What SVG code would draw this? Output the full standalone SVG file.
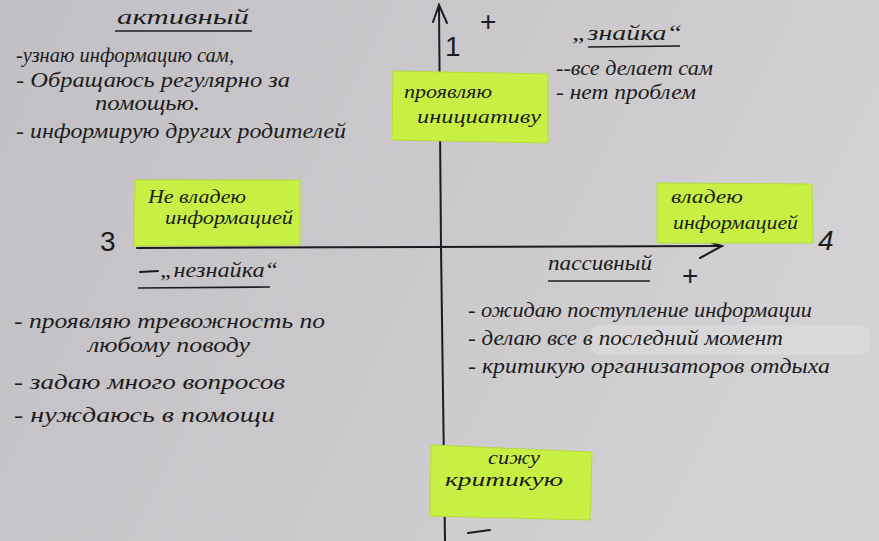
<svg xmlns="http://www.w3.org/2000/svg" width="879" height="541" viewBox="0 0 879 541">
  <defs>
    <linearGradient id="paper" x1="0" y1="0" x2="1" y2="0.3">
      <stop offset="0" stop-color="#c2c0c4"/>
      <stop offset="0.6" stop-color="#cbc9cc"/>
      <stop offset="1" stop-color="#d3d1d4"/>
    </linearGradient>
    <style>
      .ink { font-family: "Liberation Serif", "DejaVu Serif", serif; font-style: italic; fill: #1c1c20; }
      .t { font-size: 20px; }
      .h { font-size: 22px; }
      .s { font-size: 19px; }
      .num { font-family: "Liberation Sans", "DejaVu Sans", sans-serif; font-size: 28px; fill: #1c1c20; }
      .line { stroke: #1c1c20; stroke-width: 2; fill: none; stroke-linecap: round; }
      .ul { stroke: #1c1c20; stroke-width: 1.6; fill: none; }
      .note { fill: #c8f044; stroke: #b4dc38; stroke-width: 1; }
    </style>
  </defs>

  <rect width="879" height="541" fill="url(#paper)"/>
  <!-- correction fluid strip -->
  <rect x="590" y="325" width="280" height="30" rx="10" fill="#dddcde" opacity="0.6"/>

  <g id="connectors">
    <path class="line" d="M439 6 L441 247 L445 541"/>
    <path class="line" d="M433 22 L439 5 L447 23"/>
    <path class="line" d="M137 248 L722 246"/>
    <path class="line" d="M700 258 L722 246 L712 243"/>
  </g>

  <g id="marks">
    <text class="num" x="445" y="56" font-size="26">1</text>
    <text class="num" x="480" y="31">+</text>
    <text class="num" x="100" y="251" font-size="30">3</text>
    <text class="num" x="818" y="250" font-size="32" font-style="italic">4</text>
    <text class="num" x="682" y="285">+</text>
    <path class="line" d="M140 272 L158 271" stroke-width="3"/>
    <path class="line" d="M468 533 L490 530" stroke-width="3"/>
  </g>

  <g id="active">
    <text class="ink h" x="183" y="24" text-anchor="middle" textLength="132" lengthAdjust="spacingAndGlyphs">активный</text>
    <path class="ul" d="M115 31 L252 31"/>
    <text class="ink t" x="16" y="62" textLength="218" lengthAdjust="spacingAndGlyphs">-узнаю информацию сам,</text>
    <text class="ink t" x="16" y="87" textLength="274" lengthAdjust="spacingAndGlyphs">- Обращаюсь регулярно за</text>
    <text class="ink t" x="95" y="110" textLength="105" lengthAdjust="spacingAndGlyphs">помощью.</text>
    <text class="ink t" x="16" y="138" textLength="330" lengthAdjust="spacingAndGlyphs">- информирую других родителей</text>
  </g>

  <g id="znayka">
    <text class="ink h" x="572" y="40" textLength="110" lengthAdjust="spacingAndGlyphs">„знайка“</text>
    <path class="ul" d="M588 47 L680 46"/>
    <text class="ink t" x="556" y="75" textLength="157" lengthAdjust="spacingAndGlyphs">--все делает сам</text>
    <text class="ink t" x="556" y="99" textLength="140" lengthAdjust="spacingAndGlyphs">- нет проблем</text>
  </g>

  <g id="neznayka">
    <text class="ink h" x="160" y="277" textLength="118" lengthAdjust="spacingAndGlyphs">„незнайка“</text>
    <path class="ul" d="M138 288 L270 287"/>
    <text class="ink t" x="14" y="328" textLength="311" lengthAdjust="spacingAndGlyphs">- проявляю тревожность по</text>
    <text class="ink t" x="88" y="352" textLength="162" lengthAdjust="spacingAndGlyphs">любому поводу</text>
    <text class="ink t" x="14" y="389" textLength="271" lengthAdjust="spacingAndGlyphs">- задаю много вопросов</text>
    <text class="ink t" x="14" y="422" textLength="261" lengthAdjust="spacingAndGlyphs">- нуждаюсь в помощи</text>
  </g>

  <g id="passive">
    <text class="ink h" x="548" y="270" textLength="104" lengthAdjust="spacingAndGlyphs">пассивный</text>
    <path class="ul" d="M548 281 L650 281"/>
    <text class="ink t" x="468" y="317" textLength="344" lengthAdjust="spacingAndGlyphs">- ожидаю поступление информации</text>
    <text class="ink t" x="468" y="345" textLength="315" lengthAdjust="spacingAndGlyphs">- делаю все в последний момент</text>
    <text class="ink t" x="468" y="373" textLength="362" lengthAdjust="spacingAndGlyphs">- критикую организаторов отдыха</text>
  </g>

  <g id="note-initiative">
    <polygon class="note" points="393,71 548,74 548,143 392,140"/>
    <text class="ink s" x="404" y="98" textLength="88" lengthAdjust="spacingAndGlyphs">проявляю</text>
    <text class="ink s" x="417" y="123" textLength="124" lengthAdjust="spacingAndGlyphs">инициативу</text>
  </g>

  <g id="note-no-info">
    <polygon class="note" points="135,180 300,180 300,245 134,246"/>
    <text class="ink s" x="148" y="203" textLength="98" lengthAdjust="spacingAndGlyphs">Не владею</text>
    <text class="ink s" x="165" y="224" textLength="128" lengthAdjust="spacingAndGlyphs">информацией</text>
  </g>

  <g id="note-info">
    <polygon class="note" points="657,183 812,184 813,243 657,243"/>
    <text class="ink s" x="671" y="203" textLength="72" lengthAdjust="spacingAndGlyphs">владею</text>
    <text class="ink s" x="673" y="229" textLength="125" lengthAdjust="spacingAndGlyphs">информацией</text>
  </g>

  <g id="note-criticize">
    <polygon class="note" points="431,445 592,452 590,520 430,516"/>
    <text class="ink s" x="488" y="464" textLength="52" lengthAdjust="spacingAndGlyphs">сижу</text>
    <text class="ink s" x="445" y="486" textLength="118" lengthAdjust="spacingAndGlyphs">критикую</text>
  </g>
</svg>
